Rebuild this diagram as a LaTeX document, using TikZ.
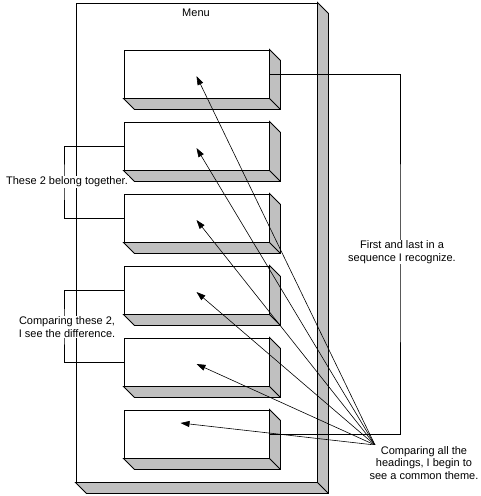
\documentclass[tikz,border=0pt]{standalone}
\usepackage{fontspec}
\setmainfont{Liberation Sans}
\usetikzlibrary{positioning,arrows.meta}
\definecolor{shadegray}{RGB}{192,192,192}

\begin{document}
\begin{tikzpicture}[x=1pt,y=-1pt,line width=0.9pt,
  heading/.style={rectangle,draw,fill=white,minimum width=145pt,minimum height=48pt,inner sep=0pt},
  note/.style={fill=white,inner sep=1pt,align=center,font=\fontsize{11}{12.5}\selectfont},
  look/.style={-{Triangle[length=9pt,width=6pt]},line width=0.6pt}]
 \useasboundingbox (0,0) rectangle (481,496);

 \node[rectangle,draw,fill=white,minimum width=241pt,minimum height=479pt,inner sep=0pt] (menu) at (196.5,242.5) {};
 \node[heading] (heading1) at (196.5,74) {};
 \node[heading] (heading2) [below=23.1pt of heading1] {};
 \node[heading] (heading3) [below=23.1pt of heading2] {};
 \node[heading] (heading4) [below=23.1pt of heading3] {};
 \node[heading] (heading5) [below=23.1pt of heading4] {};
 \node[heading] (heading6) [below=23.1pt of heading5] {};

 % raised look of the frame and the headings
 \foreach \shp in {menu,heading1,heading2,heading3,heading4,heading5,heading6}
  \path[draw,fill=shadegray] (\shp.north east) -- ++(11pt,-11pt) |- ([shift={(11pt,-11pt)}]\shp.south west)
   -- (\shp.south west) -- (\shp.south east) -- cycle (\shp.south east) -- ++(11pt,-11pt);

 \node[note] (title) at (196,13) {Menu};

 \coordinate (eye) at (375,445);
 \path[draw,look] (eye) -- ([yshift=-2pt]heading1.center);
 \path[draw,look] (eye) -- ([yshift=-2pt]heading2.center);
 \path[draw,look] (eye) -- ([yshift=-2pt]heading3.center);
 \path[draw,look] (eye) -- ([yshift=-2pt]heading4.center);
 \path[draw,look] (eye) -- ([yshift=-2pt]heading5.center);
 \path[draw,look] (eye) -- ([shift={(-16pt,11pt)}]heading6.center);

 \coordinate (bendA) at (64,182);
 \coordinate (bendB) at (64,327);
 \coordinate (bendC) at (400,252);
 \path[draw] (heading2.west) -| (bendA) |- (heading3.west);
 \path[draw] (heading4.west) -| (bendB) |- (heading5.west);
 \path[draw] (heading1.east) -| (bendC) |- (heading6.east);

 \node[note] (together) at (67,182) {These 2 belong together.};
 \node[note] (difference) at (67,327) {Comparing these 2,\\I see the difference.};
 \node[note] (sequence) at (402,252) {First and last in a\\sequence I recognize.};
 \node[note] (theme) at (424,463) {Comparing all the\\headings, I begin to\\see a common theme.};
\end{tikzpicture}
\end{document}
